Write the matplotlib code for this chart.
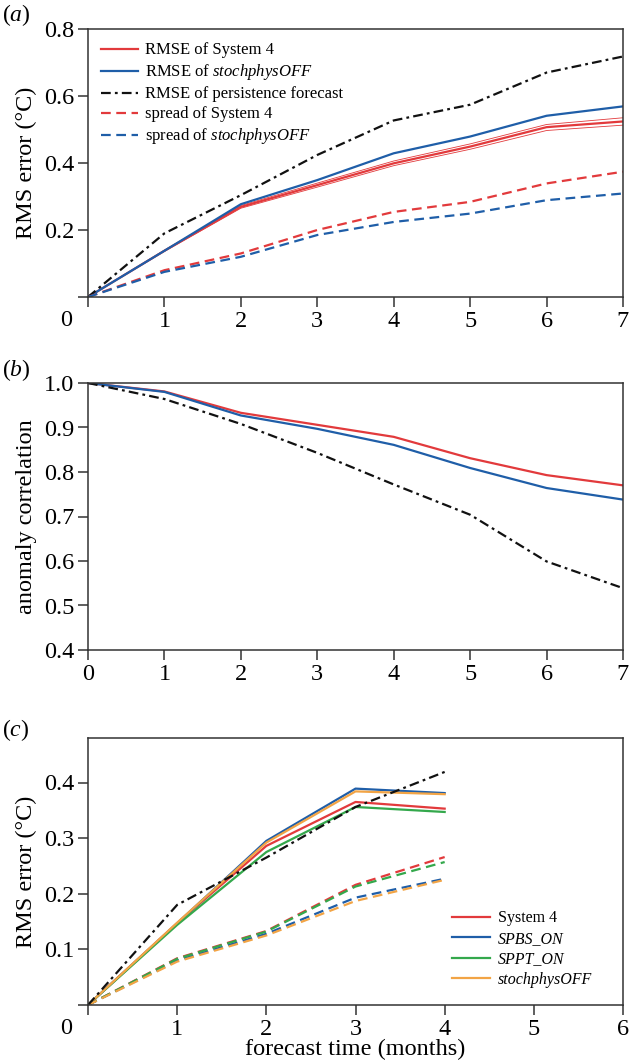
import matplotlib
matplotlib.use("Agg")
import matplotlib.pyplot as plt

plt.rcParams['font.family'] = ['Liberation Serif', 'DejaVu Serif']
plt.rcParams['mathtext.fontset'] = 'custom'
plt.rcParams['mathtext.rm'] = 'Liberation Serif'
plt.rcParams['mathtext.it'] = 'Liberation Serif:italic'
plt.rcParams['lines.scale_dashes'] = False

# ---------------- data ----------------
months_a = [0, 1, 2, 3, 4, 5, 6, 7]
rmse_sys4 = [0, 0.138, 0.269, 0.334, 0.399, 0.449, 0.507, 0.524]
rmse_sys4_hi = [0, 0.140, 0.273, 0.340, 0.406, 0.457, 0.515, 0.535]
rmse_sys4_lo = [0, 0.136, 0.265, 0.328, 0.392, 0.441, 0.497, 0.513]
rmse_off = [0, 0.138, 0.277, 0.349, 0.429, 0.479, 0.541, 0.569]
rmse_pers = [0, 0.190, 0.304, 0.424, 0.527, 0.574, 0.670, 0.718]
spread_sys4 = [0, 0.080, 0.130, 0.200, 0.254, 0.284, 0.339, 0.374]
spread_off = [0, 0.075, 0.120, 0.185, 0.224, 0.249, 0.289, 0.309]

acc_sys4 = [1.0, 0.981, 0.933, 0.906, 0.879, 0.831, 0.793, 0.770]
acc_off = [1.0, 0.980, 0.927, 0.897, 0.861, 0.809, 0.764, 0.738]
acc_pers = [1.0, 0.964, 0.908, 0.843, 0.772, 0.704, 0.599, 0.539]

months_c = [0, 1, 2, 3, 4]
c_rmse_sys4 = [0, 0.147, 0.286, 0.365, 0.353]
c_rmse_spbs = [0, 0.147, 0.295, 0.389, 0.381]
c_rmse_sppt = [0, 0.144, 0.275, 0.356, 0.347]
c_rmse_off = [0, 0.148, 0.292, 0.384, 0.379]
c_rmse_pers = [0, 0.180, 0.265, 0.356, 0.419]
c_spread_sys4 = [0, 0.084, 0.133, 0.216, 0.266]
c_spread_spbs = [0, 0.080, 0.128, 0.193, 0.227]
c_spread_sppt = [0, 0.083, 0.132, 0.213, 0.257]
c_spread_off = [0, 0.078, 0.125, 0.187, 0.225]

legend_a = ['RMSE of System 4', 'RMSE of $\\mathit{stochphysOFF}$',
            'RMSE of persistence forecast', 'spread of System 4',
            'spread of $\\mathit{stochphysOFF}$']
legend_c = ['System 4', 'SPBS_ON', 'SPPT_ON', 'stochphysOFF']

# ---------------- style ----------------
RED = '#e23a3c'
BLUE = '#1f5ea8'
GREEN = '#34a84c'
ORANGE = '#f2a445'
BLACK = '#111111'
DASHDOT = (0, (7, 3, 2, 3))
DASHED = (0, (7, 4))
LW = 1.6
SPINE = '#333333'
TICKFS = 17.5
LABELFS = 17.5

fig = plt.figure(figsize=(6.29, 10.63), dpi=100)
W, H = 629, 1063


def make_ax(top_px, bot_px):
    left, right = 88, 623
    return fig.add_axes([left / W, 1 - bot_px / H, (right - left) / W, (bot_px - top_px) / H])


def style(ax):
    for s in ax.spines.values():
        s.set_color(SPINE)
        s.set_linewidth(1.1)
    ax.tick_params(direction='out', length=7, width=1.1, color=SPINE,
                   labelsize=TICKFS, pad=3, top=False, right=False)


def corner_zero(ax):
    ax.annotate('0', xy=(0, 0), xycoords='axes fraction', xytext=(-22, -23),
                textcoords='offset pixels', ha='center', va='center', fontsize=TICKFS)


# ---------------- panel a ----------------
ax = make_ax(29, 297)
style(ax)
ax.plot(months_a, rmse_sys4_hi, color=RED, lw=0.6)
ax.plot(months_a, rmse_sys4_lo, color=RED, lw=0.6)
l1, = ax.plot(months_a, rmse_sys4, color=RED, lw=LW)
l2, = ax.plot(months_a, rmse_off, color=BLUE, lw=LW)
l3, = ax.plot(months_a, rmse_pers, color=BLACK, lw=LW, linestyle=DASHDOT)
l4, = ax.plot(months_a, spread_sys4, color=RED, lw=LW, linestyle=DASHED)
l5, = ax.plot(months_a, spread_off, color=BLUE, lw=LW, linestyle=DASHED)
ax.set_xlim(0, 7)
ax.set_ylim(0, 0.8)
ax.set_xticks(months_a)
ax.set_xticklabels([''] + [str(m) for m in months_a[1:]])
ax.set_yticks([0, 0.2, 0.4, 0.6, 0.8])
ax.set_yticklabels(['', '0.2', '0.4', '0.6', '0.8'])
corner_zero(ax)
ax.set_ylabel('RMS error (°C)', fontsize=LABELFS, labelpad=5)
ax.legend([l1, l2, l3, l4, l5], legend_a, loc='upper left',
          bbox_to_anchor=(0.024, 0.95), frameon=False, fontsize=12,
          handlelength=2.25, handletextpad=0.4, labelspacing=0.24,
          borderpad=0, borderaxespad=0)
fig.text(2 / W, 1 - 15 / H, '$(\\mathit{a})$', fontsize=17, va='center', ha='left')

# ---------------- panel b ----------------
ax = make_ax(383, 650)
style(ax)
ax.plot(months_a, acc_sys4, color=RED, lw=LW)
ax.plot(months_a, acc_off, color=BLUE, lw=LW)
ax.plot(months_a, acc_pers, color=BLACK, lw=LW, linestyle=DASHDOT)
ax.set_xlim(0, 7)
ax.set_ylim(0.4, 1.0)
ax.set_xticks(months_a)
ax.set_yticks([0.4, 0.5, 0.6, 0.7, 0.8, 0.9, 1.0])
ax.set_yticklabels(['0.4', '0.5', '0.6', '0.7', '0.8', '0.9', '1.0'])
ax.set_ylabel('anomaly correlation', fontsize=LABELFS, labelpad=5)
fig.text(2 / W, 1 - 370 / H, '$(\\mathit{b})$', fontsize=17, va='center', ha='left')

# ---------------- panel c ----------------
ax = make_ax(738, 1005)
style(ax)
m1, = ax.plot(months_c, c_rmse_sys4, color=RED, lw=LW)
m2, = ax.plot(months_c, c_rmse_spbs, color=BLUE, lw=LW)
m3, = ax.plot(months_c, c_rmse_sppt, color=GREEN, lw=LW)
m4, = ax.plot(months_c, c_rmse_off, color=ORANGE, lw=LW)
ax.plot(months_c, c_spread_sys4, color=RED, lw=LW, linestyle=DASHED)
ax.plot(months_c, c_spread_spbs, color=BLUE, lw=LW, linestyle=DASHED)
ax.plot(months_c, c_spread_sppt, color=GREEN, lw=LW, linestyle=DASHED)
ax.plot(months_c, c_spread_off, color=ORANGE, lw=LW, linestyle=DASHED)
ax.plot(months_c, c_rmse_pers, color=BLACK, lw=LW, linestyle=DASHDOT)
ax.set_xlim(0, 6)
ax.set_ylim(0, 0.48)
ax.set_xticks([0, 1, 2, 3, 4, 5, 6])
ax.set_xticklabels(['', '1', '2', '3', '4', '5', '6'])
ax.set_yticks([0, 0.1, 0.2, 0.3, 0.4])
ax.set_yticklabels(['', '0.1', '0.2', '0.3', '0.4'])
corner_zero(ax)
ax.set_ylabel('RMS error (°C)', fontsize=LABELFS, labelpad=5)
ax.set_xlabel('forecast time (months)', fontsize=LABELFS, labelpad=-1)
leg = ax.legend([m1, m2, m3, m4], legend_c, loc='upper left',
                bbox_to_anchor=(0.68, 0.355), frameon=False, fontsize=11.5,
                handlelength=2.4, handletextpad=0.5, labelspacing=0.28,
                borderpad=0, borderaxespad=0)
for t in leg.get_texts()[1:]:
    t.set_style('italic')
fig.text(2 / W, 1 - 730 / H, '$(\\mathit{c})$', fontsize=17, va='center', ha='left')

fig.savefig('out.png', dpi=100)
